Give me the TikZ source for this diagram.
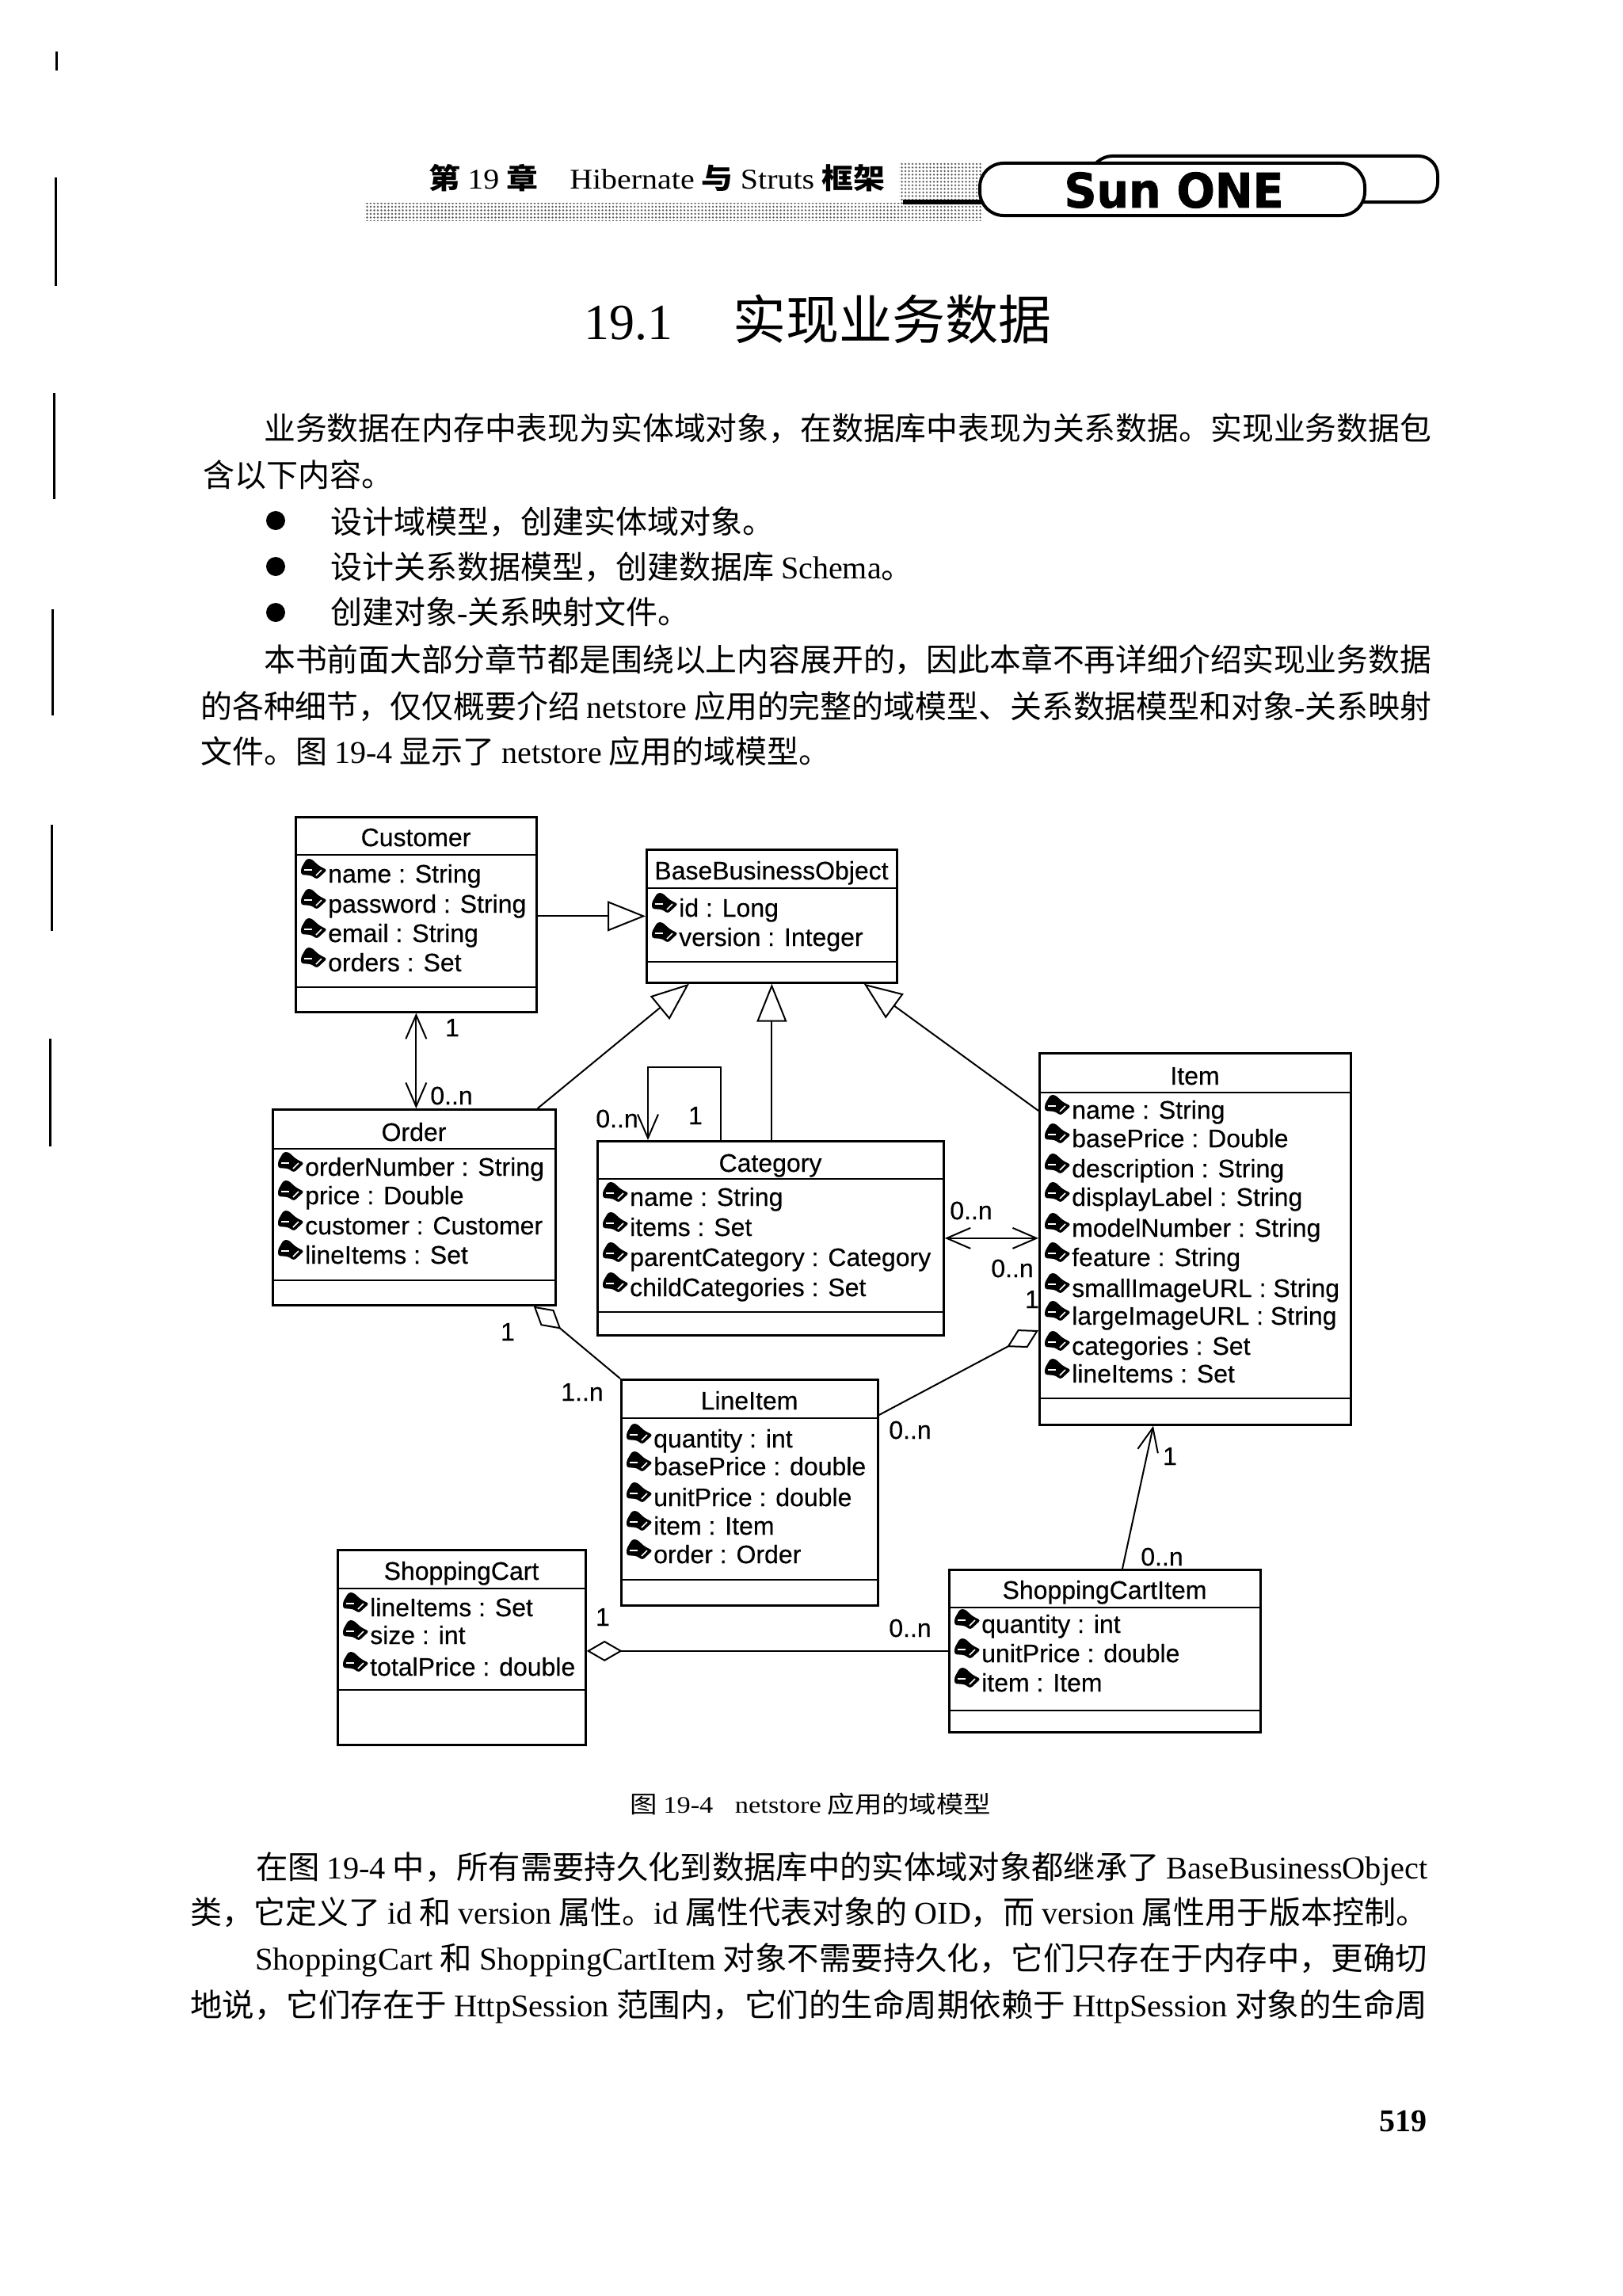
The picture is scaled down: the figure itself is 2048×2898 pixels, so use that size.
\documentclass[tikz,border=0pt]{standalone}
\usepackage{fontspec}
\usepackage{graphicx}
\setmainfont{Liberation Serif}
\newfontfamily\cjk{Noto Sans CJK SC}
\newfontfamily\umlfont[FakeBold=0.4]{Liberation Sans}
\newfontfamily\logofont[FakeBold=1.5]{DejaVu Sans}
\newcommand{\lat}[1]{{\rmfamily\mdseries #1}}
\usetikzlibrary{arrows.meta,patterns.meta}
\tikzset{
  x=1pt,y=-1pt,
  umlbox/.style={draw=black,fill=white,line width=2.7pt,rectangle,inner sep=0pt,anchor=north west},
  sepline/.style={draw=black,line width=2.4pt},
  umltitle/.style={font=\umlfont\fontsize{32}{38}\selectfont,inner sep=0pt,anchor=base},
  umlattr/.style={font=\umlfont\fontsize{32}{38}\selectfont,inner sep=0pt,anchor=base west},
  mult/.style={font=\umlfont\fontsize{32}{38}\selectfont,inner sep=0pt,anchor=center},
  rel/.style={draw=black,line width=2pt},
  gen/.style={rel,-{Triangle[length=48pt,width=38pt,fill=white,line width=2pt]}},
  barbs/.style={rel,{Straight Barb[length=30pt,width=26pt,line width=2pt]}-{Straight Barb[length=30pt,width=26pt,line width=2pt]}},
  barb/.style={rel,-{Straight Barb[length=30pt,width=26pt,line width=2pt]}},
  aggr/.style={rel,-{Diamond[length=45pt,width=26pt,fill=white,line width=2pt]}},
  bodytxt/.style={font=\cjk\fontsize{40}{48}\selectfont,inner sep=0pt,anchor=base west},
  edgetick/.style={draw=black,line width=3pt},
  dotband/.style={pattern={Dots[distance=4.5pt,radius=1.3pt]},pattern color=black!65},
  lockicon/.pic={
    \fill[black,rounded corners=3pt] (-16,-1) -- (-9,-13) -- (-3,-13) -- (7,-4) -- (17,1) -- (4,13) -- (-3,8) -- (-16,7) -- cycle;
    \draw[white,line width=1.5pt] (-12,1) -- (-2,1);
    \draw[white,line width=1.5pt] (10,1) -- (3,8);
  }
}
% name, x1,y1,x2,y2, separator 1, separator 2, title, title centre y, attribute list
\newcommand{\umlclass}[9]{%
  \pgfmathsetmacro{\bw}{#4-#2}\pgfmathsetmacro{\bh}{#5-#3}%
  \node[umlbox,minimum width=\bw pt,minimum height=\bh pt] (#1) at (#2,#3) {};
  \path[sepline] (#2,#6) -- (#4,#6);
  \path[sepline] (#2,#7) -- (#4,#7);
  \pgfmathsetmacro{\bcx}{(#2+#4)/2}%
  \node[umltitle] (#1-title) at (\bcx+1,#9+11) {#8};
  \def\bxleft{#2}\def\bname{#1}%
  \umlattrs
}
\newcommand{\umlattrs}[1]{%
  \foreach \yy/\txt [count=\ii] in {#1}{
    \pic at (\bxleft+24,\yy-7) {lockicon};
    \node[umlattr] (\bname-a\ii) at (\bxleft+42,\yy+10) {\txt};
  }
}
\newcommand{\fitline}[5]{\node[bodytxt] (#1) at (#2,#3+15) {\resizebox{#4pt}{\height}{#5}};}
\newcommand{\natline}[4]{\node[bodytxt] (#1) at (#2,#3+15) {#4};}
\begin{document}
\begin{tikzpicture}
\useasboundingbox (0,0) rectangle (2048,2898);
\fill[white] (0,0) rectangle (2048,2898);
% page-edge ticks
\path[edgetick] (71.5,65) -- (71.5,89);
\path[edgetick] (70,224) -- (70,361);
\path[edgetick] (68,496) -- (68,630);
\path[edgetick] (66,769) -- (66,903);
\path[edgetick] (65,1041) -- (65,1175);
\path[edgetick] (63,1311) -- (63,1447);
% running head
\path[dotband] (460,256) rectangle (1240,278);
\path[dotband] (1135,205) rectangle (1240,256);
\fill[black] (1140,252) rectangle (1240,258);
\draw[black,line width=4pt,fill=white,rounded corners=24pt] (1370,255) -- (1380,197) -- (1815,197) -- (1815,255) -- cycle;
\draw[black,line width=4pt,fill=white,rounded corners=30pt] (1237,206) rectangle (1723,272);
\node[inner sep=0pt,font=\logofont\bfseries\fontsize{60}{64}\selectfont] (logo) at (1482,240) {\resizebox{277pt}{\height}{Sun ONE}};
\node[bodytxt,font=\cjk\bfseries\fontsize{36}{42}\selectfont] (head) at (541,238) {\resizebox{576pt}{\height}{第 \lat{19} 章\hspace{36pt}\lat{Hibernate} 与 \lat{Struts} 框架}};
% section title
\node[inner sep=0pt,anchor=base west] (sect) at (737,428) {\fontsize{64}{70}\selectfont 19.1\hspace{76pt}\cjk\fontsize{67}{70}\selectfont 实现业务数据};
% body above figure
\fitline{p1}{333}{540}{1474}{业务数据在内存中表现为实体域对象，在数据库中表现为关系数据。实现业务数据包}
\natline{p2}{256}{599}{含以下内容。}
\fill[black] (348,657) circle (12);
\natline{b1}{417}{658}{设计域模型，创建实体域对象。}
\fill[black] (348,715) circle (12);
\natline{b2}{417}{715}{设计关系数据模型，创建数据库 \lat{Schema}。}
\fill[black] (348,773) circle (12);
\natline{b3}{417}{772}{创建对象\lat{-}关系映射文件。}
\fitline{p3}{333}{832}{1474}{本书前面大部分章节都是围绕以上内容展开的，因此本章不再详细介绍实现业务数据}
\fitline{p4}{253}{891}{1554}{的各种细节，仅仅概要介绍 \lat{netstore} 应用的完整的域模型、关系数据模型和对象\lat{-}关系映射}
\natline{p5}{253}{948}{文件。图 \lat{19-4} 显示了 \lat{netstore} 应用的域模型。}
% classes
\umlclass{cust}{372}{1030}{676}{1276}{1079}{1246}{Customer}{1057}
  {1104/name : String,1142/password : String,1179/email : String,1216/orders : Set}
\umlclass{bbo}{815}{1071}{1131}{1239}{1121}{1214}{BaseBusinessObject}{1099}
  {1147/id : Long,1184/version : Integer}
\umlclass{order}{343}{1399}{700}{1646}{1450}{1616}{Order}{1429}
  {1474/orderNumber : String,1510/price : Double,1548/customer : Customer,1585/lineItems : Set}
\umlclass{cat}{753}{1439}{1190}{1684}{1488}{1656}{Category}{1468}
  {1512/name : String,1550/items : Set,1588/parentCategory : Category,1626/childCategories : Set}
\umlclass{item}{1311}{1328}{1704}{1797}{1379}{1765}{Item}{1358}
  {1402/name : String,1438/basePrice : Double,1476/description : String,1512/displayLabel : String,1551/modelNumber : String,1588/feature : String,1627/smallImageURL : String,1662/largeImageURL : String,1700/categories : Set,1735/lineItems : Set}
\umlclass{li}{783}{1740}{1107}{2025}{1790}{1994}{LineItem}{1768}
  {1817/quantity : int,1852/basePrice : double,1891/unitPrice : double,1927/item : Item,1963/order : Order}
\umlclass{scart}{425}{1955}{738}{2201}{2005}{2133}{ShoppingCart}{1983}
  {2030/lineItems : Set,2065/size : int,2105/totalPrice : double}
\umlclass{sci}{1197}{1980}{1590}{2185}{2029}{2159}{ShoppingCartItem}{2007}
  {2051/quantity : int,2088/unitPrice : double,2125/item : Item}
% connectors
\draw[gen] (cust.east |- bbo.west) -- (bbo.west);
\draw[barbs] (cust.south) -- (cust.south |- order.north);
\draw[gen] ([xshift=-24pt]order.north east) -- ([xshift=55pt]bbo.south west);
\draw[gen] (cat.north -| bbo.south) -- (bbo.south);
\draw[gen] ([yshift=-74pt]item.north west) -- ([xshift=-43pt]bbo.south east);
\draw[barb] ([xshift=157pt]cat.north west) -- ++(0,-92) -- ++(-92,0) -- ([xshift=65pt]cat.north west);
\draw[barbs] (cat.east) -- (cat.east -| item.west);
\draw[aggr] ([yshift=-46pt]li.north east) -- ([yshift=-351pt]item.north west);
\draw[aggr] (li.north west) -- ([xshift=-29pt]order.south east);
\draw[aggr] (sci.west) -- (sci.west -| scart.east);
\draw[barb] ([xshift=220pt]sci.north west) -- ([xshift=145pt]item.south west);
% multiplicities
\node[mult] (m1) at (571,1297) {1};
\node[mult] (m2) at (570,1383) {0..n};
\node[mult] (m3) at (779,1412) {0..n};
\node[mult] (m4) at (878,1408) {1};
\node[mult] (m5) at (1226,1528) {0..n};
\node[mult] (m6) at (1278,1601) {0..n};
\node[mult] (m7) at (1303,1640) {1};
\node[mult] (m8) at (641,1681) {1};
\node[mult] (m9) at (735,1757) {1..n};
\node[mult] (m10) at (1149,1805) {0..n};
\node[mult] (m11) at (761,2041) {1};
\node[mult] (m12) at (1149,2055) {0..n};
\node[mult] (m13) at (1477,1838) {1};
\node[mult] (m14) at (1467,1965) {0..n};
% caption and body below figure
\node[bodytxt,font=\cjk\fontsize{30}{36}\selectfont] (cap) at (795,2288) {\resizebox{456pt}{\height}{图 \lat{19-4}\hspace{24pt}\lat{netstore} 应用的域模型}};
\fitline{q1}{323}{2356}{1479}{在图 \lat{19-4} 中，所有需要持久化到数据库中的实体域对象都继承了 \lat{BaseBusinessObject}}
\fitline{q2}{240}{2413}{1562}{类，它定义了 \lat{id} 和 \lat{version} 属性。\lat{id} 属性代表对象的 \lat{OID}，而 \lat{version} 属性用于版本控制。}
\fitline{q3}{322}{2471}{1480}{\lat{ShoppingCart} 和 \lat{ShoppingCartItem} 对象不需要持久化，它们只存在于内存中，更确切}
\fitline{q4}{240}{2530}{1562}{地说，它们存在于 \lat{HttpSession} 范围内，它们的生命周期依赖于 \lat{HttpSession} 对象的生命周}
\node[inner sep=0pt,anchor=base west,font=\rmfamily\bfseries\fontsize{40}{48}\selectfont] (pg) at (1741,2690) {519};
\end{tikzpicture}
\end{document}
